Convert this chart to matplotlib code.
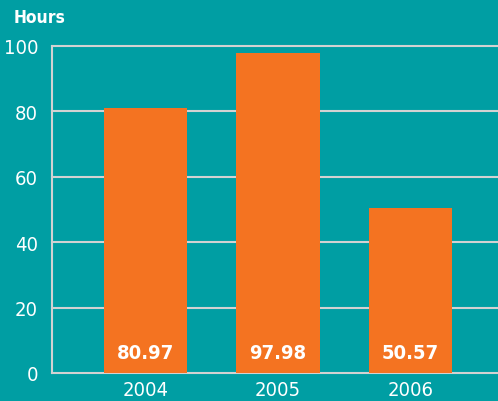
import matplotlib
matplotlib.use("Agg")
from matplotlib import pyplot as plt

years = ["2004", "2005", "2006"]
hours = [80.97, 97.98, 50.57]
y_ticks = [0, 20, 40, 60, 80, 100]

teal = "#009ea3"
orange = "#f47321"
grid_gray = "#d2d2d2"

plt.rcParams['font.family'] = ['DejaVu Sans']
plt.rcParams['font.stretch'] = 'condensed'

fig = plt.figure(figsize=(4.98, 4.02), dpi=100, facecolor=teal)
ax = fig.add_axes([52 / 498, 28 / 402, 1 - 52 / 498, 327 / 402])
ax.set_facecolor(teal)

x = list(range(len(years)))
ax.bar(x, hours, width=0.63, color=orange, zorder=3)

for t in y_ticks:
    ax.axhline(t, color=grid_gray, lw=1.5, zorder=1, clip_on=False)

ax.set_xlim(-0.706, 2.66)
ax.set_ylim(0, 100)

for xi, v in zip(x, hours):
    ax.text(xi, 6.4, "%.2f" % v, color="white", fontsize=14.5, fontweight="bold",
            ha="center", va="center", zorder=4)

ax.set_xticks(x)
ax.set_xticklabels(years)
ax.set_yticks(y_ticks)
ax.tick_params(axis="both", length=0, colors="white", labelsize=14.5)
ax.tick_params(axis="y", pad=10)
ax.tick_params(axis="x", pad=5)

for side in ["top", "right", "bottom"]:
    ax.spines[side].set_visible(False)
ax.spines["left"].set_color(grid_gray)
ax.spines["left"].set_linewidth(1.5)

fig.text(14 / 498, 1 - 18 / 402, "Hours", color="white", fontsize=12.5,
         fontweight="bold", ha="left", va="center")

fig.savefig("out.png", dpi=100, facecolor=teal)
